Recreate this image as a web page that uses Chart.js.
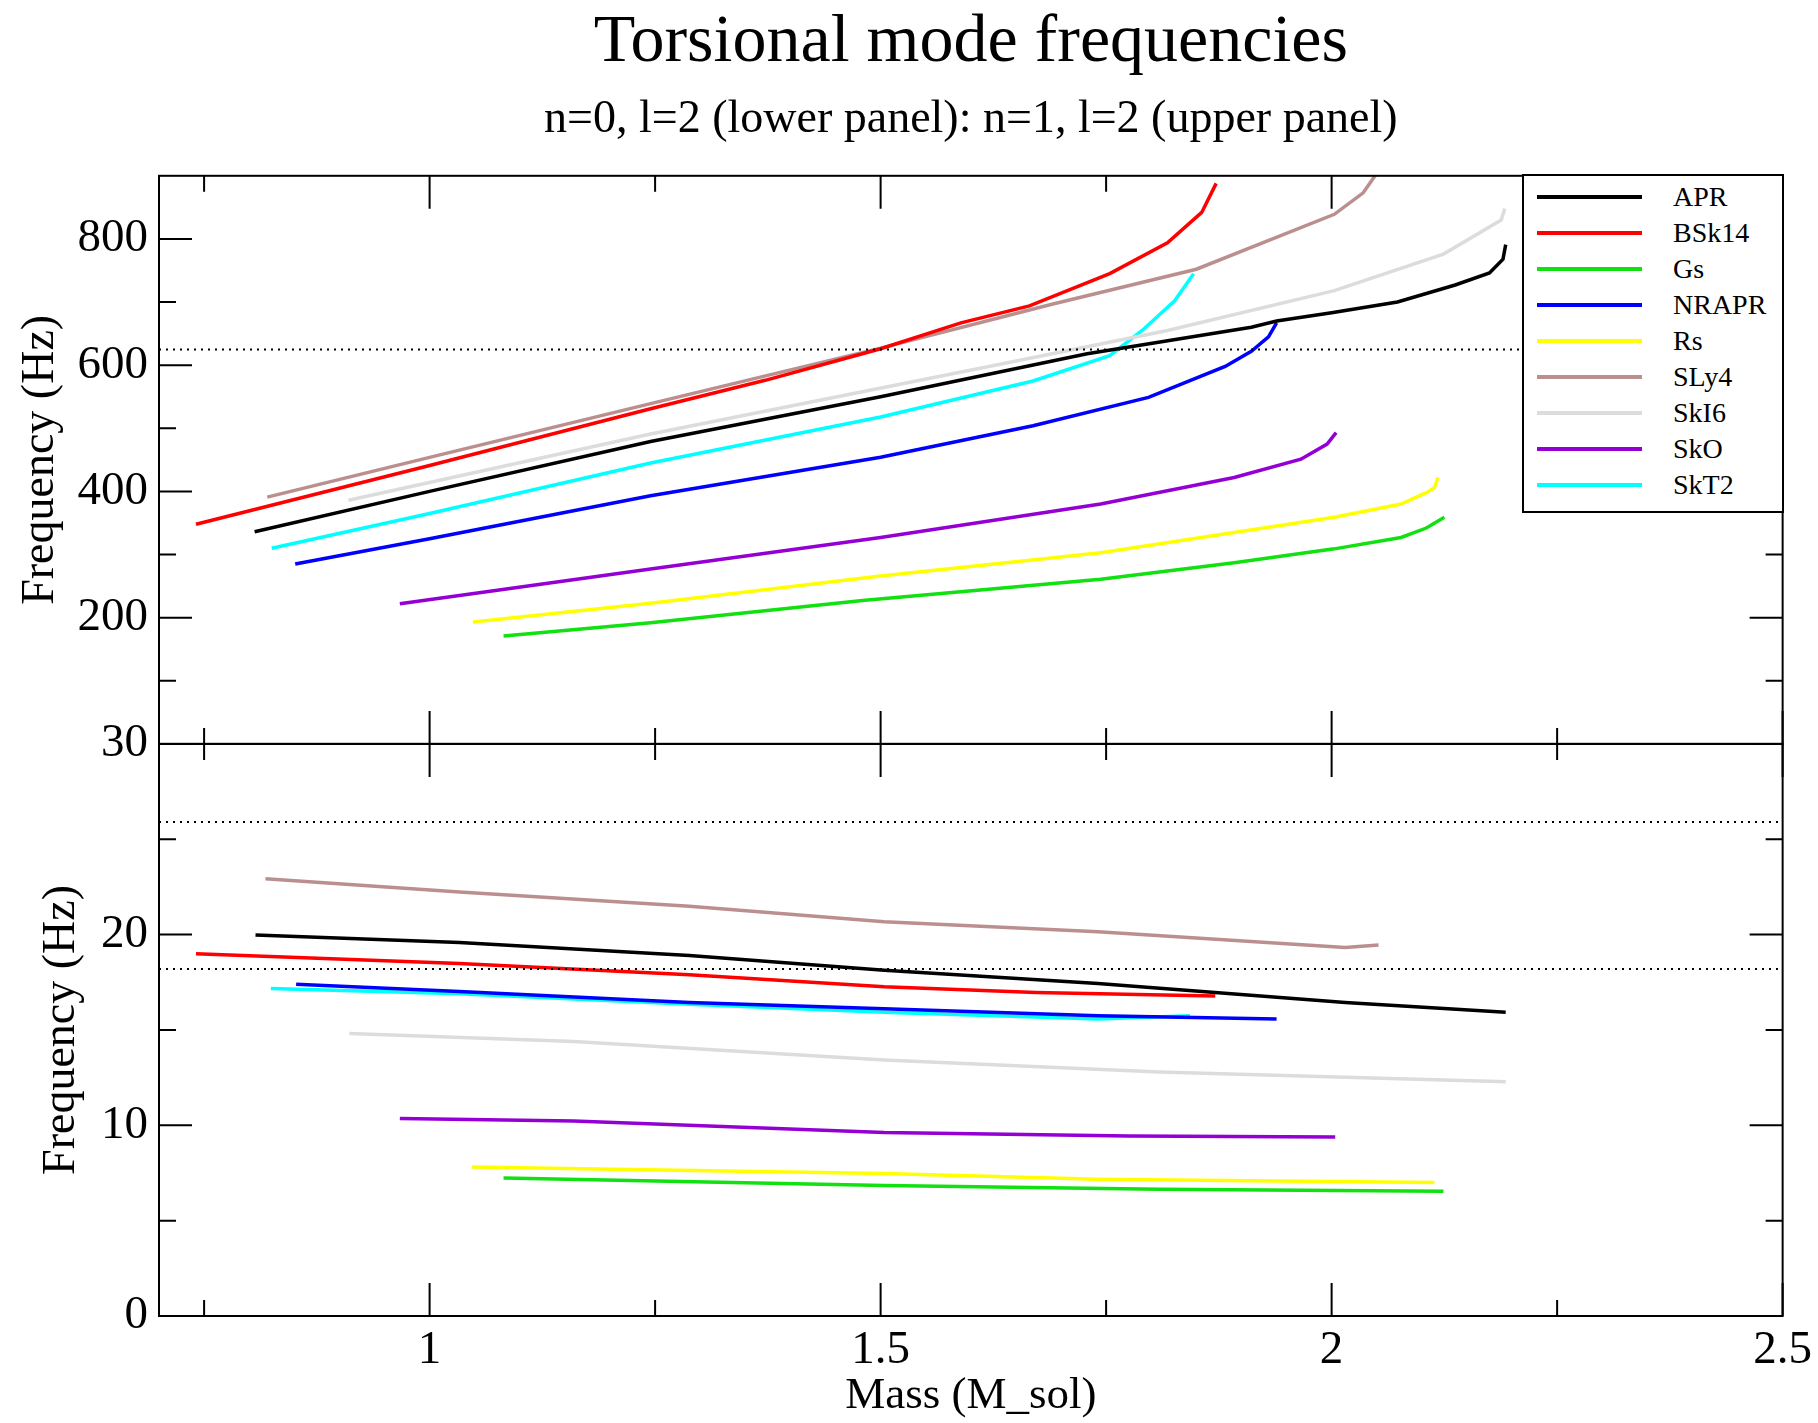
<!DOCTYPE html>
<html>
<head>
<meta charset="utf-8">
<title>Torsional mode frequencies</title>
<script src="https://cdn.jsdelivr.net/npm/chart.js@4.4.1/dist/chart.umd.min.js"></script>
<style>
    html, body { margin: 0; padding: 0; background: #fff; }
    #wrap { position: relative; width: 1818px; height: 1423px; }
    #chart { position: absolute; left: 0; top: 0; }
    #legend {
        position: absolute; left: 1522px; top: 174px;
        width: 262px; height: 339px; box-sizing: border-box;
        border: 2px solid #000; background: #fff; padding-top: 3px;
        font-family: 'Liberation Serif', 'DejaVu Serif', serif; font-size: 28px; color: #000;
    }
    .row { display: flex; align-items: center; height: 36px; }
    .swatch { margin-left: 13px; width: 105px; height: 4px; }
    .name { margin-left: 31px; }
</style>
</head>
<body>
<div id="wrap">
    <canvas id="chart" width="1818" height="1423"></canvas>
    <div id="legend"></div>
</div>
<script>
// Axes
const massRange = [0.7, 2.5];
const massTicks = [1, 1.5, 2, 2.5];
const massMinor = [0.75, 1.25, 1.75, 2.25];
const upperRange = [0, 900];
const upperTicks = [200, 400, 600, 800];
const upperMinor = [100, 300, 500, 700];
const lowerRange = [0, 30];
const lowerTicks = [0, 10, 20, 30];
const lowerMinor = [5, 15, 25];

// Horizontal reference frequencies (Hz)
const upperRefLines = [625];
const lowerRefLines = [25.9, 18.2];

// Equations of state
const models = ['APR', 'BSk14', 'Gs', 'NRAPR', 'Rs', 'SLy4', 'SkI6', 'SkO', 'SkT2'];
const modelColors = ['#000000', '#ff0000', '#11e011', '#0000ff', '#ffff00', '#bc8f8f', '#dcdcdc', '#9400d3', '#00ffff'];

// n=1, l=2 (upper panel): [mass, frequency]
const aprUpper = [[0.806, 336], [1.0, 400], [1.245, 479], [1.5, 550], [1.729, 618], [1.911, 660], [1.939, 670], [2.0, 683], [2.073, 700], [2.137, 727], [2.175, 746], [2.19, 768], [2.193, 791]];
const bsk14Upper = [[0.741, 348], [1.0, 441], [1.245, 531], [1.372, 576], [1.5, 626], [1.589, 667], [1.665, 694], [1.754, 745], [1.818, 794], [1.856, 842], [1.872, 888]];
const gsUpper = [[1.082, 171], [1.245, 192], [1.48, 227], [1.744, 261], [1.892, 287], [2.003, 309], [2.077, 327], [2.105, 342], [2.125, 359]];
const nraprUpper = [[0.851, 285], [1.0, 325], [1.245, 393], [1.5, 454], [1.669, 504], [1.797, 549], [1.882, 598], [1.911, 622], [1.93, 645], [1.939, 667]];
const rsUpper = [[1.048, 193], [1.245, 223], [1.5, 266], [1.744, 303], [1.892, 335], [2.003, 359], [2.077, 380], [2.105, 398], [2.114, 406], [2.118, 422]];
const sly4Upper = [[0.82, 391], [1.0, 454], [1.245, 539], [1.5, 627], [1.691, 697], [1.85, 752], [2.003, 839], [2.035, 873], [2.051, 906]];
const ski6Upper = [[0.91, 386], [1.245, 491], [1.627, 600], [1.818, 655], [2.003, 718], [2.124, 776], [2.188, 830], [2.192, 848]];
const skoUpper = [[0.967, 222], [1.245, 277], [1.5, 327], [1.744, 380], [1.892, 422], [1.966, 451], [1.995, 475], [2.005, 493]];
const skt2Upper = [[0.825, 310], [1.0, 365], [1.245, 445], [1.5, 518], [1.669, 575], [1.754, 615], [1.79, 655], [1.826, 702], [1.847, 745]];

// n=0, l=2 (lower panel): [mass, frequency]
const aprLower = [[0.807, 19.98], [1.033, 19.59], [1.288, 18.9], [1.504, 18.13], [1.741, 17.43], [2.015, 16.44], [2.193, 15.93]];
const bsk14Lower = [[0.741, 18.99], [1.033, 18.48], [1.288, 17.9], [1.504, 17.27], [1.672, 16.97], [1.871, 16.78]];
const gsLower = [[1.082, 7.24], [1.504, 6.84], [1.809, 6.65], [2.124, 6.54]];
const nraprLower = [[0.852, 17.39], [1.033, 17.02], [1.288, 16.44], [1.504, 16.11], [1.741, 15.75], [1.939, 15.58]];
const rsLower = [[1.047, 7.81], [1.504, 7.47], [1.741, 7.17], [2.114, 7.0]];
const sly4Lower = [[0.818, 22.93], [1.033, 22.23], [1.288, 21.49], [1.504, 20.68], [1.741, 20.15], [2.015, 19.33], [2.052, 19.45]];
const ski6Lower = [[0.911, 14.82], [1.16, 14.4], [1.504, 13.43], [1.809, 12.8], [2.193, 12.29]];
const skoLower = [[0.967, 10.36], [1.16, 10.22], [1.504, 9.62], [1.775, 9.44], [2.004, 9.39]];
const skt2Lower = [[0.824, 17.18], [1.033, 16.9], [1.288, 16.35], [1.504, 15.93], [1.741, 15.58], [1.843, 15.75]];

const upperSeries = [aprUpper, bsk14Upper, gsUpper, nraprUpper, rsUpper, sly4Upper, ski6Upper, skoUpper, skt2Upper];
const lowerSeries = [aprLower, bsk14Lower, gsLower, nraprLower, rsLower, sly4Lower, ski6Lower, skoLower, skt2Lower];

const serif = "'Liberation Serif', 'DejaVu Serif', serif";
const toPoints = (pairs) => pairs.map(([x, y]) => ({ x, y }));

// Build datasets
const datasets = [];
upperRefLines.forEach((f) => datasets.push({
    label: 'ref', yAxisID: 'yHigh', data: toPoints([[massRange[0], f], [massRange[1], f]]),
    borderColor: '#000', borderWidth: 2, borderDash: [2, 5]
}));
lowerRefLines.forEach((f) => datasets.push({
    label: 'ref', yAxisID: 'yLow', data: toPoints([[massRange[0], f], [massRange[1], f]]),
    borderColor: '#000', borderWidth: 2, borderDash: [2, 5]
}));
models.forEach((name, i) => {
    datasets.push({ label: name, yAxisID: 'yHigh', data: toPoints(upperSeries[i]), borderColor: modelColors[i], borderWidth: 3.5 });
    datasets.push({ label: name, yAxisID: 'yLow', data: toPoints(lowerSeries[i]), borderColor: modelColors[i], borderWidth: 3.5 });
});

// Box frame with inward tick marks, xmgrace style
const frameTicks = {
    id: 'frameTicks',
    afterDatasetsDraw(chart) {
        const { ctx, chartArea, scales } = chart;
        const sx = scales.x;
        const left = chartArea.left, right = chartArea.right;
        ctx.save();
        ctx.strokeStyle = '#000';
        ctx.lineWidth = 2;
        const panels = [
            [scales.yHigh, upperTicks, upperMinor],
            [scales.yLow, lowerTicks, lowerMinor]
        ];
        panels.forEach(([sy, major, minor]) => {
            const top = sy.top, bottom = sy.bottom;
            ctx.strokeRect(left, top, right - left, bottom - top);
            ctx.beginPath();
            const xMarks = (vals, len) => vals.forEach((v) => {
                const px = sx.getPixelForValue(v);
                ctx.moveTo(px, top); ctx.lineTo(px, top + len);
                ctx.moveTo(px, bottom); ctx.lineTo(px, bottom - len);
            });
            const yMarks = (vals, len) => vals.forEach((v) => {
                const py = sy.getPixelForValue(v);
                ctx.moveTo(left, py); ctx.lineTo(left + len, py);
                ctx.moveTo(right, py); ctx.lineTo(right - len, py);
            });
            xMarks(massTicks, 33);
            xMarks(massMinor, 16);
            yMarks(major, 33);
            yMarks(minor, 17);
            ctx.stroke();
        });
        ctx.restore();
    }
};

const initTorsionalChart = () => {
    const ctx = document.getElementById('chart').getContext('2d');
    const tickFont = { family: serif, size: 47 };
    const titleFont = { family: serif, size: 46 };

    const yScale = (range, ticks, pad, weight) => ({
        type: 'linear',
        position: 'left',
        stack: 'freq',
        stackWeight: weight,
        min: range[0],
        max: range[1],
        afterBuildTicks: (s) => { s.ticks = ticks.map((v) => ({ value: v })); },
        afterFit: (s) => { s.width = 159; },
        grid: { display: false, drawTicks: false },
        border: { display: false },
        ticks: { color: '#000', font: tickFont, padding: 11, callback: (v) => String(v) },
        title: { display: true, text: 'Frequency (Hz)', color: '#000', font: titleFont, padding: { top: pad, bottom: 0 } }
    });

    new Chart(ctx, {
        type: 'scatter',
        data: { datasets },
        options: {
            responsive: false,
            animation: false,
            showLine: true,
            elements: { point: { radius: 0, hoverRadius: 0 }, line: { tension: 0 } },
            layout: { padding: { top: 0, right: 34, bottom: 0, left: 0 } },
            plugins: {
                legend: { display: false },
                tooltip: { enabled: false },
                title: {
                    display: true, fullSize: false, text: 'Torsional mode frequencies', color: '#000',
                    font: { family: serif, size: 68, weight: 'normal' }, padding: { top: 2, bottom: 9 }
                },
                subtitle: {
                    display: true, fullSize: false, text: 'n=0, l=2 (lower panel): n=1, l=2 (upper panel)', color: '#000',
                    font: { family: serif, size: 46, weight: 'normal' }, padding: { top: 0, bottom: 28 }
                }
            },
            scales: {
                x: {
                    type: 'linear',
                    min: massRange[0],
                    max: massRange[1],
                    afterBuildTicks: (s) => { s.ticks = massTicks.map((v) => ({ value: v })); },
                    afterFit: (s) => { s.height = 107; },
                    grid: { display: false, drawTicks: false },
                    border: { display: false },
                    ticks: { color: '#000', font: tickFont, padding: 6, maxRotation: 0, callback: (v) => String(v) },
                    title: { display: true, text: 'Mass (M_sol)', color: '#000', font: { family: serif, size: 45 }, padding: { top: 0, bottom: 0 } }
                },
                yLow: yScale(lowerRange, lowerTicks, 34, 572),
                yHigh: yScale(upperRange, upperTicks, 13, 568)
            }
        },
        plugins: [frameTicks]
    });
};

// HTML legend built from the model list
const buildLegend = () => {
    const box = document.getElementById('legend');
    models.forEach((name, i) => {
        const row = document.createElement('div');
        row.className = 'row';
        const sw = document.createElement('div');
        sw.className = 'swatch';
        sw.style.background = modelColors[i];
        const label = document.createElement('span');
        label.className = 'name';
        label.textContent = name;
        row.appendChild(sw);
        row.appendChild(label);
        box.appendChild(row);
    });
};

initTorsionalChart();
buildLegend();
</script>
</body>
</html>
